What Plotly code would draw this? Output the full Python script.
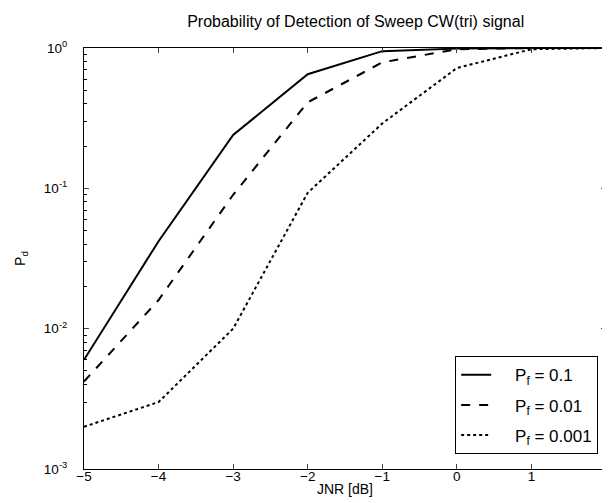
import plotly.graph_objects as go

jnr = [-5, -4, -3, -2, -1, 0, 1, 2]
pd_pf01 = [0.006, 0.042, 0.24, 0.65, 0.95, 0.99, 1.0, 1.0]
pd_pf001 = [0.0042, 0.016, 0.09, 0.41, 0.79, 0.98, 1.0, 1.0]
pd_pf0001 = [0.002, 0.003, 0.01, 0.093, 0.29, 0.72, 0.98, 1.0]
names = ["P<sub>f</sub> = 0.1", "P<sub>f</sub> = 0.01", "P<sub>f</sub> = 0.001"]
dashes = ["solid", "dash", "dot"]

ytick_vals = [0.001, 0.01, 0.1, 1]
ytick_text = ["10<sup>-3</sup>", "10<sup>-2</sup>", "10<sup>-1</sup>", "10<sup>0</sup>"]
minor_vals = [m * d for d in (0.001, 0.01, 0.1) for m in range(2, 10)]

fig = go.Figure()
for i, (ys, nm, ds) in enumerate(zip([pd_pf01, pd_pf001, pd_pf0001], names, dashes)):
    fig.add_trace(go.Scatter(x=jnr, y=ys, mode="lines",
                             name="&nbsp;&nbsp;&nbsp;&nbsp;" + nm, legendgroup=f"g{i}",
                             line=dict(color="black", width=2, dash=ds)))

fam = "Liberation Sans, Arial, sans-serif"
tickfont = dict(family=fam, size=13.5, color="black")
font = dict(family=fam, size=14, color="black")
fig.update_layout(
    width=610, height=503,
    margin=dict(l=76, r=8, t=40, b=42),
    paper_bgcolor="white", plot_bgcolor="white",
    font=font,
    title=dict(text="Probability of Detection of Sweep CW(tri) signal",
               x=0.57, xanchor="center", y=0.985, yanchor="top",
               font=dict(family=fam, size=16, color="black")),
    showlegend=True,
    legend=dict(x=0.985, y=0.035, xanchor="right", yanchor="bottom",
                bgcolor="white", bordercolor="black", borderwidth=1,
                font=dict(family=fam, size=17, color="black"),
                tracegroupgap=5),
)
fig.update_xaxes(range=[-5, 2], tickvals=jnr, ticks="inside", ticklen=5,
                 showline=True, linecolor="black", linewidth=1, mirror="ticks",
                 showgrid=False, zeroline=False, ticklabeloverflow="allow",
                 tickfont=tickfont, ticklabelstandoff=-5,
                 title=dict(text="JNR [dB]", standoff=0, font=font))
fig.update_yaxes(type="log", range=[-3, 0], tickvals=ytick_vals, ticktext=ytick_text,
                 ticks="inside", ticklen=5, tickfont=tickfont, ticklabelstandoff=13,
                 showline=True, linecolor="black", linewidth=1, mirror="ticks",
                 showgrid=False, zeroline=False,
                 minor=dict(tickvals=minor_vals, ticks="inside", ticklen=3,
                            tickcolor="black", showgrid=False),
                 title=dict(text="P<sub>d</sub>", standoff=14, font=font))

fig.write_html("out.html")
